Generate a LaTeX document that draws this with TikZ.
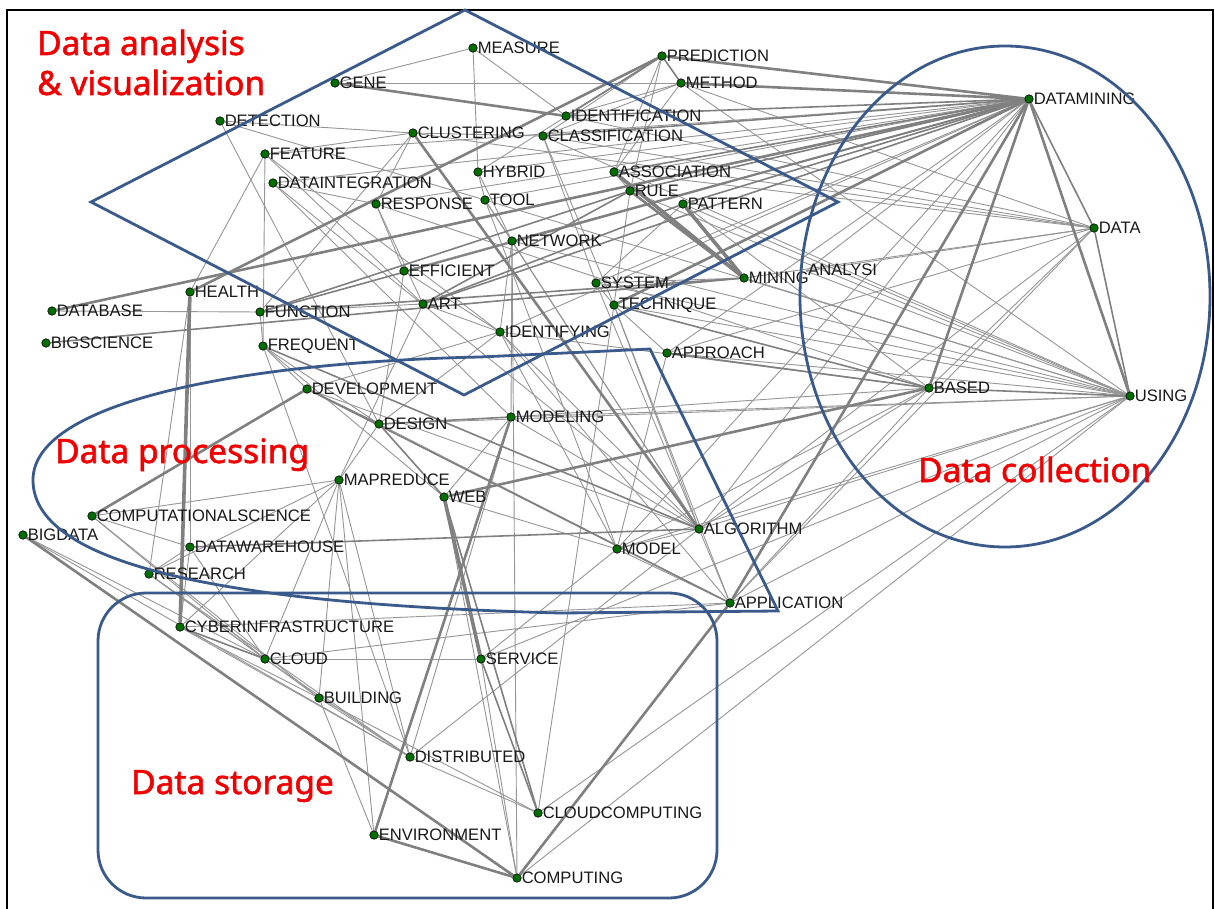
\documentclass[tikz,border=0pt]{standalone}
\usepackage{fontspec}
\setmainfont{Liberation Sans}
\newfontfamily\redfont[FakeBold=1.6]{Noto Sans}
\pgfdeclarelayer{background}
\pgfdeclarelayer{edges}
\pgfsetlayers{background,edges,main}
\definecolor{rgblue}{RGB}{59,90,140}
\definecolor{edgegray}{RGB}{128,128,128}
\definecolor{thingray}{RGB}{150,150,150}
\definecolor{dotgreen}{RGB}{0,110,0}
\definecolor{redtxt}{RGB}{240,0,0}
\tikzset{
  dot/.style={circle, fill=dotgreen, draw=black, line width=0.6pt, minimum size=8.5pt, inner sep=0pt,
    label distance=1.5pt},
  lbl/.style={font=\fontsize{16.6}{17}\selectfont, text=black!90, inner sep=0pt},
  e1/.style={draw=thingray, line width=0.9pt},
  e2/.style={draw=edgegray, line width=1.6pt},
  e3/.style={draw=edgegray, line width=2.6pt},
  e4/.style={draw=edgegray, line width=3.6pt},
  region/.style={draw=rgblue, line width=2.8pt},
  redlbl/.style={font=\redfont\fontsize{33.5}{38}\selectfont, text=redtxt, anchor=base west, inner sep=0pt}
}
\newcommand{\kw}[4]{\node[dot, label={[lbl]right:#4}] (#1) at (#2,#3) {};}
\begin{document}
\begin{tikzpicture}[x=1pt,y=-1pt]
\useasboundingbox (0,0) rectangle (1215,909);
\begin{pgfonlayer}{background}
\fill[white] (0,0) rectangle (1215,909);
\end{pgfonlayer}
% frame
\draw[black, line width=2pt] (7,915) -- (7,10) -- (1213,10) -- (1213,915);

% keyword nodes
\kw{mea}{473}{48}{MEASURE}
\kw{pre}{662}{56}{PREDICTION}
\kw{met}{681}{83}{METHOD}
\kw{gen}{335}{83}{GENE}
\kw{dm}{1029}{99}{DATAMINING}
\kw{idf}{566}{116}{IDENTIFICATION}
\kw{det}{220}{121}{DETECTION}
\kw{clu}{413}{133}{CLUSTERING}
\kw{cla}{543}{136}{CLASSIFICATION}
\kw{fea}{265}{154}{FEATURE}
\kw{hyb}{478}{172}{HYBRID}
\kw{ass}{614}{172}{ASSOCIATION}
\kw{din}{273}{183}{DATAINTEGRATION}
\kw{rul}{630}{191}{RULE}
\kw{res}{376}{204}{RESPONSE}
\kw{too}{485}{200}{TOOL}
\kw{pat}{683}{204}{PATTERN}
\kw{dat}{1094}{228}{DATA}
\kw{net}{512}{241}{NETWORK}
\kw{eff}{404}{271}{EFFICIENT}
\kw{min}{744}{278}{MINING}
\coordinate (ana) at (806,271);
\node[lbl, anchor=west] (analbl) at (808,270) {ANALYSI};
\kw{sys}{596}{283}{SYSTEM}
\kw{dbs}{52}{311}{DATABASE}
\kw{hea}{190}{292}{HEALTH}
\kw{fun}{260}{312}{FUNCTION}
\kw{art}{423}{304}{ART}
\kw{tec}{614}{305}{TECHNIQUE}
\kw{bsc}{46}{343}{BIGSCIENCE}
\kw{fre}{263}{346}{FREQUENT}
\kw{idy}{500}{332}{IDENTIFYING}
\kw{app}{667}{353}{APPROACH}
\kw{dev}{307}{389}{DEVELOPMENT}
\kw{bas}{929}{388}{BASED}
\kw{usi}{1130}{396}{USING}
\kw{des}{379}{424}{DESIGN}
\kw{mdl}{511}{417}{MODELING}
\kw{mpr}{339}{480}{MAPREDUCE}
\kw{web}{444}{497}{WEB}
\kw{csc}{92}{516}{COMPUTATIONALSCIENCE}
\kw{bgd}{23}{535}{BIGDATA}
\kw{alg}{699}{529}{ALGORITHM}
\kw{dwh}{190}{547}{DATAWAREHOUSE}
\kw{mod}{617}{549}{MODEL}
\kw{rsc}{149}{574}{RESEARCH}
\kw{apl}{730}{603}{APPLICATION}
\kw{cyb}{180}{627}{CYBERINFRASTRUCTURE}
\kw{clo}{265}{659}{CLOUD}
\kw{ser}{481}{659}{SERVICE}
\kw{bui}{319}{698}{BUILDING}
\kw{dis}{410}{757}{DISTRIBUTED}
\kw{clc}{538}{813}{CLOUDCOMPUTING}
\kw{env}{374}{835}{ENVIRONMENT}
\kw{com}{517}{878}{COMPUTING}

\begin{pgfonlayer}{edges}
% thin edges
\foreach \a/\b in {mea/gen, mea/hyb, mea/idf, det/too, det/des, clu/fea, clu/det, clu/fun, clu/res,
  fea/hea, fea/fre, fea/art, fea/idy, din/res, din/mdl, din/alg, din/dm, res/art, res/eff,
  hyb/too, hyb/dm, hyb/pre, hyb/net, too/dm, too/alg, too/net, too/mod, idf/pre, idf/met,
  cla/pre, cla/met, cla/sys, cla/tec, cla/dat, idf/dat, ass/dat, ass/rul, ass/pre, rul/usi, rul/tec,
  pat/usi, pat/bas, pat/sys, net/idy, net/mdl, net/usi, net/com, net/eff, eff/dm, eff/des, eff/idy,
  sys/dm, sys/usi, sys/alg, sys/tec, tec/app, tec/alg, tec/apl, tec/usi, min/usi, min/dat, min/sys,
  ana/dat, ana/usi, ana/dm, app/usi, app/dat, app/dm, app/mod, idy/bas, idy/des, idy/mod,
  idy/apl, idy/dm, art/idy, art/mpr, fun/art, fun/fre, fre/dis, fre/des, dbs/fun, dev/fre,
  dev/alg, dev/idy, des/mpr, des/apl, des/usi, mdl/usi, mdl/alg, mdl/bas, mpr/csc, mpr/clo,
  mpr/bui, mpr/env, mpr/dis, web/com, web/mod, csc/dwh, csc/clo, csc/bui, bgd/clo, bgd/dis,
  rsc/dwh, rsc/clo, rsc/bui, rsc/dis, rsc/mpr, rsc/hea, dwh/clo, dwh/cyb, cyb/apl, cyb/bui,
  cyb/dis, cyb/mpr, clo/dis, clo/ser, bui/dis, bui/env, bui/clc, dis/clc, dis/alg, dis/mdl,
  ser/com, ser/mod, clc/usi, com/usi, clc/tec, mod/usi, mod/alg, alg/apl, alg/usi, alg/dat,
  apl/usi, apl/dat, apl/bas, apl/mod, bas/dat, dm/alg, dm/mod, dm/fea, dm/res, pre/rul,
  met/ass, met/usi, met/dat, gen/met, clu/cla, clu/dat, cla/usi, res/bas, too/usi, hea/dwh,
  fre/web, net/alg, mdl/web, idy/alg, ser/usi, clo/apl, bas/mod, bas/alg}
  \draw[e1] (\a) -- (\b);
% medium edges
\foreach \a/\b in {idf/dm, cla/dm, ass/dm, rul/dm, pat/dm, art/dm, fun/rul, des/mdl, des/dev,
  des/web, dwh/alg, dat/usi, bas/usi, tec/bas, fre/alg, cyb/clo, web/clc, ser/clc, pre/met,
  pre/idf, pat/art, art/rul, fun/min, bsc/min, app/bas, dm/dat, fun/dm, dm/net, dev/apl}
  \draw[e2] (\a) -- (\b);
% thick edges
\foreach \a/\b in {rul/min, dbs/dm, hea/pre, clu/alg, env/mdl, bgd/com, tec/dm, pre/dm, met/dm,
  gen/idf, apl/com, dm/apl, dm/bas, env/com, dev/csc, web/bas, dm/usi}
  \draw[e3] (\a) -- (\b);
% very thick edges
\foreach \a/\b in {hea/cyb, web/ser, pat/min, ass/min}
  \draw[e4] (\a) -- (\b);
\end{pgfonlayer}

% regions
\draw[region] (465,10) -- (838,202) -- (464,395) -- (91,202) -- cycle;
\draw[region] (1005,296.5) ellipse [x radius=205, y radius=250.5];
\draw[region] (650,349) -- (778,611) -- (560,613) .. controls (250,605) and (33,570) .. (33,480)
  .. controls (33,400) and (250,362) .. (480,357) -- cycle;
\draw[region, rounded corners=48pt] (98,593) rectangle (717,898);

% red titles
\node[redlbl] (t1) at (37,55) {Data analysis};
\node[redlbl] (t1b) at (37,95) {\& visualization};
\node[redlbl] (t2) at (55,463) {Data processing};
\node[redlbl] (t3) at (918,482) {Data collection};
\node[redlbl] (t4) at (131,794) {Data storage};
\end{tikzpicture}
\end{document}
